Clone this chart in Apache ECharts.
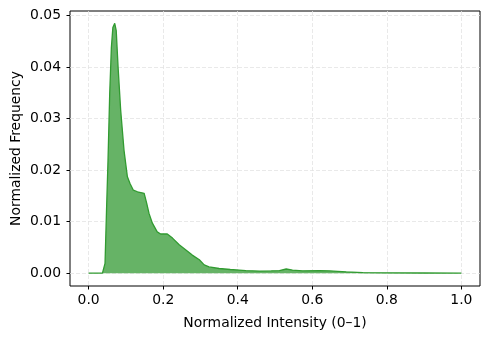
<!DOCTYPE html>
<html>
<head>
<meta charset="utf-8">
<script src="https://cdn.jsdelivr.net/npm/echarts@6/dist/echarts.min.js"></script>
<style>
	html, body { margin: 0; padding: 0; background: #fff; }
	#container { width: 490px; height: 339px; }
</style>
</head>
<body>
<div id="container"></div>
<script>
	// intensity bins (x) and normalized frequency (y)
	var intensity = [0, 0.037, 0.040, 0.044, 0.048, 0.052, 0.0565, 0.061, 0.065, 0.070, 0.074, 0.079, 0.086, 0.095,
		0.104, 0.111, 0.120, 0.131, 0.149, 0.156, 0.162, 0.171, 0.184, 0.193, 0.211, 0.225, 0.243, 0.261,
		0.278, 0.297, 0.310, 0.323, 0.350, 0.380, 0.404, 0.422, 0.458, 0.490, 0.512, 0.530, 0.547, 0.574,
		0.619, 0.646, 0.691, 0.736, 0.800, 0.900, 1.0];
	var frequency = [0, 0, 0.0003, 0.0019, 0.0122, 0.0219, 0.0348, 0.0438, 0.0477, 0.0485, 0.0471, 0.0400, 0.0316, 0.0238,
		0.0187, 0.0174, 0.0161, 0.0158, 0.0155, 0.0135, 0.0116, 0.0097, 0.0080, 0.0076, 0.0076, 0.0068, 0.0055, 0.0045,
		0.0035, 0.0026, 0.0016, 0.0012, 0.0009, 0.0007, 0.0006, 0.0005, 0.0004, 0.00045, 0.0005, 0.0008, 0.0006, 0.00045,
		0.0005, 0.00045, 0.00025, 0.0001, 0.00005, 0.00002, 0];
	var xTicks = [0, 0.2, 0.4, 0.6, 0.8, 1.0];
	var yTicks = [0, 0.01, 0.02, 0.03, 0.04, 0.05];

	var font = 'DejaVu Sans';
	var gridLine = { show: true, lineStyle: { color: '#e3e3e3', type: [4, 2], width: 0.8 } };

	var points = [];
	for (var i = 0; i < intensity.length; i++) {
		points.push([intensity[i], frequency[i]]);
	}

	var myChart = echarts.init(document.getElementById('container'), null, { renderer: 'canvas' });
	var option = {
		animation: false,
		grid: {
			left: 70,
			right: 10,
			top: 11,
			bottom: 53,
			outerBoundsMode: 'none',
			containLabel: false,
			show: true,
			borderColor: '#000',
			borderWidth: 1,
			backgroundColor: 'transparent'
		},
		xAxis: {
			type: 'value',
			min: -0.05,
			max: 1.05,
			name: 'Normalized Intensity (0–1)',
			nameLocation: 'middle',
			nameGap: 30,
			nameMoveOverlap: false,
			nameTextStyle: { fontFamily: font, fontSize: 13.9, color: '#000' },
			axisLine: { show: false, onZero: false },
			axisTick: { show: true, length: 3.5, customValues: xTicks, lineStyle: { color: '#000' } },
			axisLabel: {
				customValues: xTicks,
				margin: 7,
				fontFamily: font,
				fontSize: 13.9,
				color: '#000',
				formatter: function (v) { return v.toFixed(1); }
			},
			splitLine: gridLine
		},
		yAxis: {
			type: 'value',
			min: -0.0025,
			max: 0.0509,
			name: 'Normalized Frequency',
			nameLocation: 'middle',
			nameGap: 47,
			nameMoveOverlap: false,
			nameTextStyle: { fontFamily: font, fontSize: 13.9, color: '#000' },
			axisLine: { show: false, onZero: false },
			axisTick: { show: true, length: 3.5, customValues: yTicks, lineStyle: { color: '#000' } },
			axisLabel: {
				customValues: yTicks,
				margin: 9,
				fontFamily: font,
				fontSize: 13.9,
				color: '#000',
				formatter: function (v) { return v.toFixed(2); }
			},
			splitLine: gridLine
		},
		series: [{
			type: 'line',
			data: points,
			showSymbol: false,
			smooth: false,
			lineStyle: { color: '#319b31', width: 1.3 },
			areaStyle: { color: '#66b366', opacity: 1, origin: 0 }
		}]
	};
	myChart.setOption(option);
</script>
</body>
</html>
